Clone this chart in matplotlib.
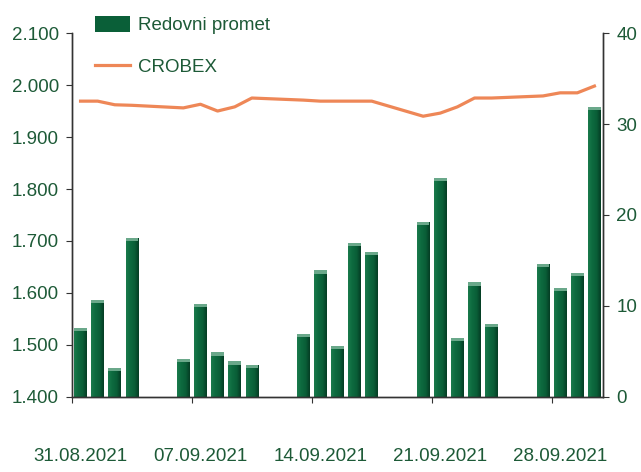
import numpy as np
import matplotlib
matplotlib.use('Agg')
import matplotlib.pyplot as plt
from matplotlib.colors import LinearSegmentedColormap
from matplotlib.patches import Patch
from matplotlib.lines import Line2D
from matplotlib.ticker import FuncFormatter

plt.rcParams['font.family'] = ['Liberation Sans Narrow', 'Liberation Sans', 'DejaVu Sans']

# trading days, counted from 31.08.2021
days = [0, 1, 2, 3, 6, 7, 8, 9, 10, 13, 14, 15, 16, 17, 20, 21, 22, 23, 24, 27, 28, 29, 30]
promet = [7.6, 10.7, 3.2, 17.5, 4.2, 10.2, 4.9, 3.9, 3.5, 6.9, 13.9, 5.6, 16.9, 15.9,
          19.2, 24.1, 6.5, 12.6, 8.0, 14.6, 12.0, 13.6, 31.9]
crobex = [1.969, 1.969, 1.962, 1.961, 1.956, 1.963, 1.950, 1.958, 1.975, 1.971, 1.969,
          1.969, 1.969, 1.969, 1.940, 1.946, 1.958, 1.975, 1.975, 1.979, 1.985, 1.985, 1.998]
tick_days = [0, 7, 14, 21, 28]
tick_labels = ['31.08.2021', '07.09.2021', '14.09.2021', '21.09.2021', '28.09.2021']

GREEN_TXT = '#1d5a37'
ORANGE = '#ee8757'
AXIS = '#333333'
FS = 13.5

fig = plt.figure(figsize=(6.41, 4.72), dpi=100)
ax = fig.add_axes([0.1123, 0.159, 0.8284, 0.771])
ax2 = ax.twinx()
ax.set_zorder(ax2.get_zorder() + 1)
ax.patch.set_visible(False)

# bars on right axis, with a horizontal gradient
xb = np.array(days) + 0.5
bars = ax2.bar(xb, promet, width=0.74, color='#0a6a3f', linewidth=0)
cmap = LinearSegmentedColormap.from_list('g', ['#1a7a4c', '#0d6a3f', '#0a5f38', '#053d24'])
grad = np.linspace(0, 1, 64).reshape(1, -1)
for b in bars:
    x0, w, h = b.get_x(), b.get_width(), b.get_height()
    im = ax2.imshow(grad, cmap=cmap, aspect='auto', extent=[x0, x0 + w, 0, h], zorder=2)
    im.set_clip_path(b)
    ax2.bar(x0 + w / 2, 0.35, bottom=h - 0.35, width=w, color='#6aa88a', linewidth=0, zorder=3)

ax2.set_ylim(0, 40)
ax2.set_yticks([0, 10, 20, 30, 40])

# CROBEX line on left axis
ax.plot(xb, crobex, color=ORANGE, linewidth=2.3, solid_joinstyle='round')
ax.set_ylim(1.4, 2.1)
ax.set_yticks(np.arange(1.4, 2.101, 0.1))
ax.yaxis.set_major_formatter(FuncFormatter(lambda v, p: f'{v:.3f}'))

ax.set_xlim(0, 31)
ax.set_xticks(tick_days)
ax.set_xticklabels([])
ax.set_xticks([d + 0.5 for d in tick_days], minor=True)
ax.set_xticklabels(tick_labels, minor=True)
ax.tick_params(axis='x', which='major', direction='out', length=4.5, color=AXIS)
ax.tick_params(axis='x', which='minor', length=0, pad=37, labelsize=FS, labelcolor=GREEN_TXT)
ax.tick_params(axis='y', direction='out', length=4.5, color=AXIS, labelsize=FS,
               labelcolor=GREEN_TXT, pad=5)
ax2.tick_params(axis='y', direction='out', length=4.5, color=AXIS, labelsize=FS,
                labelcolor=GREEN_TXT, pad=5)
ax2.set_xlim(0, 31)

for a in (ax, ax2):
    a.spines['top'].set_visible(False)
    for s in ('left', 'right', 'bottom'):
        a.spines[s].set_color(AXIS)
        a.spines[s].set_linewidth(1.0)

handles = [Patch(facecolor='#0a5f38', edgecolor='none'),
           Line2D([0], [0], color=ORANGE, linewidth=2.3)]
fig.legend(handles, ['Redovni promet', 'CROBEX'], loc='upper left',
           bbox_to_anchor=(0.13, 0.99), frameon=False, fontsize=FS,
           labelcolor=GREEN_TXT, handlelength=1.9, handleheight=0.9,
           handletextpad=0.4, labelspacing=1.25, borderaxespad=0.2)

fig.savefig('out.png', dpi=100)
